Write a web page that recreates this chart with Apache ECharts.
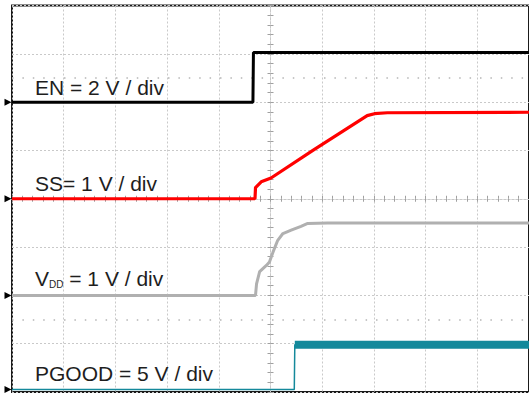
<!DOCTYPE html>
<html>
<head>
<meta charset="utf-8">
<script src="https://cdn.jsdelivr.net/npm/echarts@6/dist/echarts.min.js"></script>
<style>
html,body{margin:0;padding:0;background:#fff;}
#chart{width:529px;height:396px;}
</style>
</head>
<body>
<div id="chart"></div>
<script>
// Time axis in divisions relative to the trigger (centre of screen)
// EN channel (2 V/div)
const enTime = [-5, -0.34, -0.33, 5];
const enVolts = [0, 0, 2.05, 2.05];
// SS channel (1 V/div)
const ssTime = [-5, -0.30, -0.29, -0.18, 0.01, 0.82, 1.87, 2.01, 2.26, 5];
const ssVolts = [0, 0, 0.23, 0.35, 0.43, 1.0, 1.72, 1.76, 1.78, 1.79];
// VDD channel (1 V/div)
const vddTime = [-5, -0.29, -0.27, -0.21, -0.08, -0.02, 0.05, 0.14, 0.24, 0.40, 0.59, 0.72, 1.10, 5];
const vddVolts = [0, 0, 0.24, 0.49, 0.62, 0.69, 0.90, 1.14, 1.28, 1.35, 1.43, 1.49, 1.50, 1.50];
// PGOOD channel (5 V/div)
const pgTime = [-5, 0.46, 0.47, 5];
const pgVolts = [0, 0, 4.65, 4.65];

// channel settings: volts per division and ground position (divisions from centre)
const channels = [
  {name: 'EN', t: enTime, v: enVolts, scale: 2, ground: 2, color: '#000000', width: 3,
   label: 'EN = 2 V / div'},
  {name: 'SS', t: ssTime, v: ssVolts, scale: 1, ground: 0, color: '#ff0000', width: 3.2,
   label: 'SS= 1 V / div'},
  {name: 'VDD', t: vddTime, v: vddVolts, scale: 1, ground: -2, color: '#b0b0b0', width: 3,
   label: 'VDD = 1 V / div'},
  {name: 'PGOOD', t: pgTime, v: pgVolts, scale: 5, ground: -3.95, color: '#14899b', width: 1.5,
   label: 'PGOOD = 5 V / div'}
];
const graticuleDots = [2.5, -2.5];

const gridColor = '#c9c9c9';
const chart = echarts.init(document.getElementById('chart'), null, {renderer: 'svg'});

function toData(ch) {
  return ch.t.map((t, i) => [t, ch.ground + ch.v[i] / ch.scale]);
}

const series = channels.map((ch, idx) => ({
  name: ch.name,
  type: 'line',
  data: toData(ch),
  showSymbol: false,
  symbol: 'none',
  animation: false,
  z: 5 + idx,
  lineStyle: {color: ch.color, width: ch.width},
  markPoint: {
    silent: true,
    symbol: 'triangle',
    symbolSize: [7, 7],
    symbolRotate: -90,
    symbolOffset: [-4, 0],
    itemStyle: {color: '#000'},
    label: {show: false},
    data: [{coord: [-5, ch.ground]}]
  }
}));

// thick noisy band for PGOOD high level
const pg = channels[3];
series.push({
  name: 'PGOOD high',
  type: 'line',
  data: toData(pg).filter((d, i) => pg.v[i] > 1),
  symbol: 'none',
  animation: false,
  z: 9,
  lineStyle: {color: '#14899b', width: 8}
});
// graticule dotted lines
series.push({
  name: 'graticule',
  type: 'line',
  data: [],
  markLine: {
    silent: true,
    symbol: 'none',
    label: {show: false},
    lineStyle: {color: '#b5b5b5', type: [1.5, 8.9], width: 1.5},
    data: graticuleDots.map(y => ({yAxis: y}))
  }
});

const tickStyle = {color: '#a0a0a0', width: 1};
function centerX(pos) {
  return {
    type: 'value', min: -5, max: 5, interval: 1, position: pos,
    axisLine: {show: true, onZero: true, lineStyle: {color: gridColor, type: [2, 2]}},
    axisTick: {show: true, inside: true, length: 3, lineStyle: tickStyle},
    minorTick: {show: true, splitNumber: 5, length: 3, lineStyle: tickStyle},
    axisLabel: {show: false},
    splitLine: {show: pos === 'bottom', lineStyle: {color: gridColor, type: [2, 2], width: 1}}
  };
}
function centerY(pos) {
  return {
    type: 'value', min: -4, max: 4, interval: 1, position: pos,
    axisLine: {show: true, onZero: true, lineStyle: {color: gridColor, type: [2, 2]}},
    axisTick: {show: true, inside: true, length: 3, lineStyle: tickStyle},
    minorTick: {show: true, splitNumber: 5, length: 3, lineStyle: tickStyle},
    axisLabel: {show: false},
    splitLine: {show: pos === 'left', lineStyle: {color: gridColor, type: [2, 2], width: 1}}
  };
}

const textFont = '21px "Liberation Sans", Arial, sans-serif';
const labelPos = [87, 183, 277, 373];
const graphics = channels.map((ch, i) => {
  if (ch.name === 'VDD') {
    return {
      type: 'text', x: 35, y: labelPos[i], silent: true, z: 100,
      style: {
        text: '{a|V}{b|DD}{a| = 1 V / div}',
        verticalAlign: 'middle',
        fill: '#1e1e1e',
        rich: {
          a: {fontSize: 21, fontFamily: '"Liberation Sans", Arial, sans-serif', fill: '#1e1e1e', verticalAlign: 'bottom', lineHeight: 24},
          b: {fontSize: 10, fontFamily: '"Liberation Sans", Arial, sans-serif', fill: '#1e1e1e', verticalAlign: 'bottom', lineHeight: 12}
        }
      }
    };
  }
  return {
    type: 'text', x: 35, y: labelPos[i], silent: true, z: 100,
    style: {text: ch.label, font: textFont, fill: '#1e1e1e', verticalAlign: 'middle'}
  };
});

chart.setOption({
  backgroundColor: '#ffffff',
  animation: false,
  grid: {left: 12, top: 5.5, width: 521, height: 386.5, show: true,
         borderColor: '#1a1a1a', borderWidth: 2, backgroundColor: 'transparent'},
  xAxis: [centerX('bottom'), centerX('top')],
  yAxis: [centerY('left'), centerY('right')],
  series: series,
  graphic: graphics
});
</script>
</body>
</html>
